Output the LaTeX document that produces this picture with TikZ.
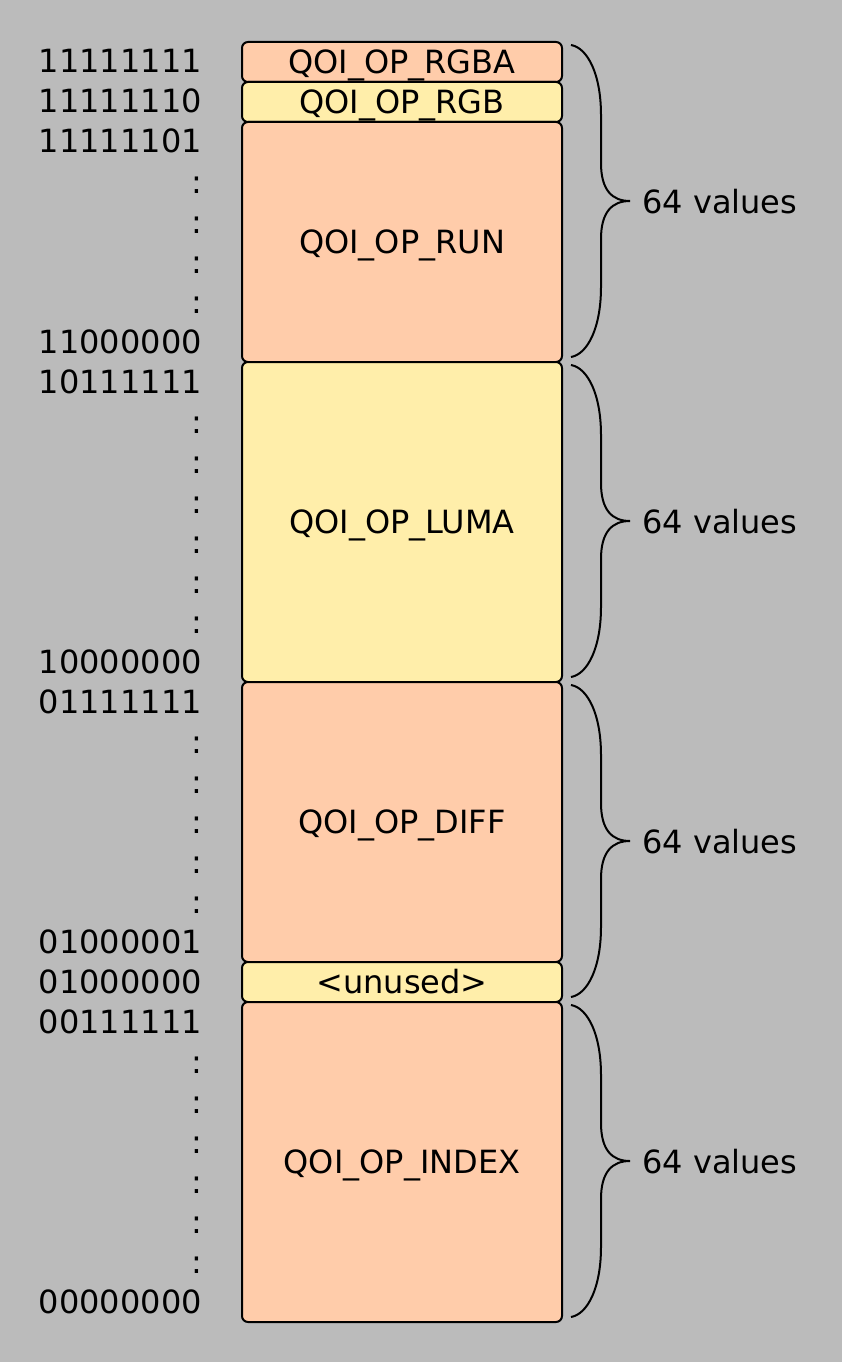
\documentclass[tikz,border=0pt]{standalone}
\usepackage{fontspec}
\setmainfont{DejaVu Sans}
\definecolor{bgc}{HTML}{BBBBBB}
\definecolor{peach}{HTML}{FFCCAA}
\definecolor{yel}{HTML}{FFEEAA}
\tikzset{
  opbox/.style={draw=black, line width=2pt, rounded corners=6pt, anchor=north west,
    minimum width=320pt, inner sep=0pt, text height=23pt, text depth=0pt,
    font=\fontsize{32}{38}\selectfont},
  code/.style={anchor=base east, inner sep=0pt, font=\fontsize{32}{38}\selectfont},
  cnt/.style={anchor=base west, inner sep=0pt, font=\fontsize{32}{38}\selectfont},
  bracel/.style={draw=black, line width=2pt}
}
\begin{document}
\begin{tikzpicture}[x=1pt,y=-1pt]
\fill[bgc] (0,0) rectangle (842,1362);
\useasboundingbox (0,0) rectangle (842,1362);
% boxes
\node[opbox, fill=peach, minimum height=40pt]  (rgba)  at (241,41)   {QOI\_OP\_RGBA};
\node[opbox, fill=yel,   minimum height=40pt]  (rgb)   at (241,81)   {QOI\_OP\_RGB};
\node[opbox, fill=peach, minimum height=240pt] (run)   at (241,121)  {QOI\_OP\_RUN};
\node[opbox, fill=yel,   minimum height=320pt] (luma)  at (241,361)  {QOI\_OP\_LUMA};
\node[opbox, fill=peach, minimum height=280pt] (diff)  at (241,681)  {QOI\_OP\_DIFF};
\node[opbox, fill=yel,   minimum height=40pt]  (unused) at (241,961) {<unused>};
\node[opbox, fill=peach, minimum height=320pt] (index) at (241,1001) {QOI\_OP\_INDEX};
% codes
\foreach \r/\t in {0/11111111,1/11111110,2/11111101,7/11000000,8/10111111,15/10000000,
                   16/01111111,22/01000001,23/01000000,24/00111111,31/00000000}{
  \node[code] (c\r) at (202,{73+40*\r}) {\t};
}
\foreach \r in {3,4,5,6,9,10,11,12,13,14,17,18,19,20,21,25,26,27,28,29,30}{
  \node[code] (d\r) at (202,{73+40*\r}) {:};
}
% braces
\foreach \t [count=\i] in {45,365,685,1005}{
  \coordinate (bt\i) at (571,\t);
  \coordinate (tip\i) at (630,\t+156);
  \coordinate (bb\i) at (571,\t+312);
  \draw[bracel] (bt\i) .. controls (588,\t+3) and (601,\t+30) .. (601,\t+70)
     -- (601,\t+118) .. controls (601,\t+145) and (612,\t+156) .. (tip\i)
     .. controls (612,\t+156) and (601,\t+167) .. (601,\t+194)
     -- (601,\t+242) .. controls (601,\t+282) and (588,\t+309) .. (bb\i);
  \node[cnt] (v\i) at (642,\t+168) {64 values};
}
\end{tikzpicture}
\end{document}
